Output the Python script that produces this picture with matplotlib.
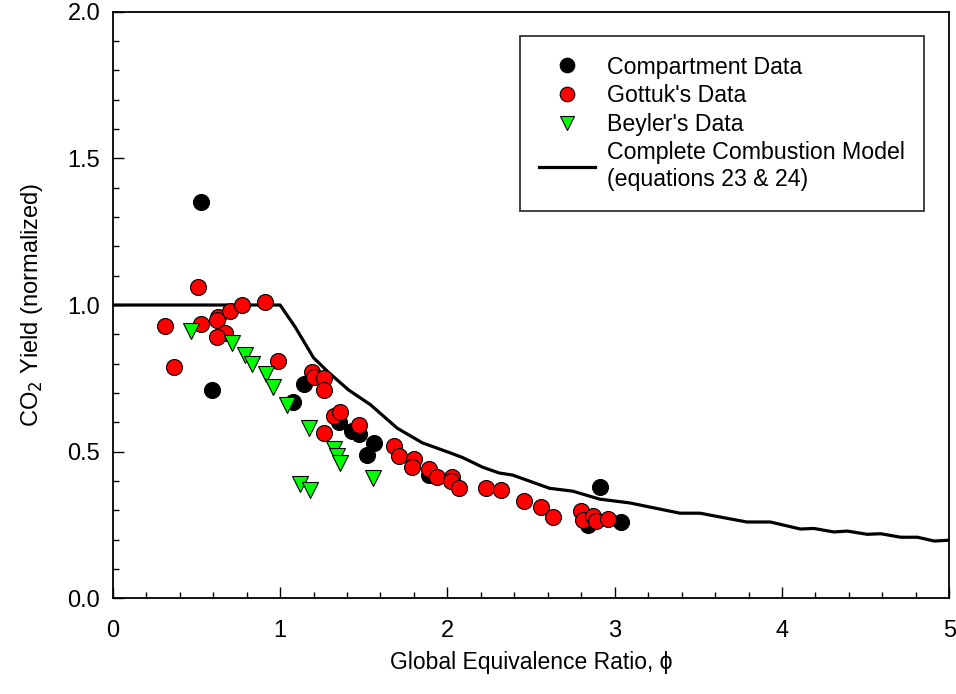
import matplotlib
matplotlib.use("Agg")
import matplotlib.pyplot as plt
from matplotlib.ticker import MultipleLocator, FormatStrFormatter

plt.rcParams['font.family'] = ['Liberation Sans', 'DejaVu Sans']

comp_x = [0.53, 0.59, 1.08, 1.14, 1.35, 1.43, 1.47, 1.56, 1.52, 1.89, 2.91, 2.84, 3.04]
comp_y = [1.35, 0.71, 0.67, 0.73, 0.60, 0.57, 0.56, 0.53, 0.49, 0.42, 0.38, 0.25, 0.26]

gott_x = [0.51, 0.31, 0.53, 0.365, 0.63, 0.62, 0.70, 0.77, 0.91, 0.67, 0.62, 0.99,
          1.19, 1.20, 1.26, 1.26, 1.32, 1.36, 1.26, 1.47, 1.68, 1.71, 1.80, 1.79,
          1.89, 1.94, 2.03, 2.02, 2.07, 2.23, 2.32, 2.46, 2.56, 2.63, 2.80, 2.81,
          2.87, 2.89, 2.96]
gott_y = [1.06, 0.93, 0.935, 0.79, 0.96, 0.95, 0.98, 1.00, 1.01, 0.905, 0.89, 0.81,
          0.77, 0.755, 0.75, 0.71, 0.62, 0.635, 0.565, 0.59, 0.52, 0.485, 0.475, 0.447,
          0.44, 0.415, 0.415, 0.40, 0.375, 0.375, 0.37, 0.33, 0.31, 0.277, 0.297, 0.266,
          0.28, 0.263, 0.27]

bey_x = [0.47, 0.71, 0.79, 0.83, 0.915, 0.96, 1.04, 1.17, 1.32, 1.34, 1.36, 1.12, 1.18, 1.555]
bey_y = [0.91, 0.87, 0.83, 0.80, 0.765, 0.72, 0.66, 0.58, 0.51, 0.485, 0.46, 0.39, 0.37, 0.41]

model_x = [0.0, 1.0, 1.09, 1.20, 1.29, 1.41, 1.54, 1.70, 1.85, 2.02, 2.09, 2.21, 2.31, 2.39,
           2.61, 2.75, 2.91, 3.09, 3.39, 3.51, 3.63, 3.79, 3.93, 4.11, 4.19, 4.31, 4.39,
           4.51, 4.59, 4.71, 4.81, 4.91, 5.0]
model_y = [1.0, 1.0, 0.925, 0.82, 0.77, 0.71, 0.66, 0.58, 0.53, 0.495, 0.48, 0.447, 0.427, 0.42,
           0.375, 0.365, 0.338, 0.325, 0.29, 0.29, 0.277, 0.26, 0.26, 0.236, 0.238, 0.226, 0.229,
           0.218, 0.22, 0.208, 0.208, 0.195, 0.198]

fig = plt.figure(figsize=(9.56, 6.94), dpi=100)
ax = fig.add_axes([0.118, 0.138, 0.875, 0.845])

ax.plot(model_x, model_y, color='black', lw=2.3, zorder=2,
        label='Complete Combustion Model\n(equations 23 & 24)')
ax.plot(comp_x, comp_y, 'o', color='black', mec='black', ms=11.5, mew=0.8, zorder=3,
        label='Compartment Data')
ax.plot(gott_x, gott_y, 'o', color='#ff0000', mec='black', ms=11.5, mew=0.8, zorder=4,
        label="Gottuk's Data")
ax.plot(bey_x, bey_y, 'v', color='#00ff00', mec='black', ms=11.5, mew=0.8, zorder=5,
        label="Beyler's Data")

ax.set_xlim(0, 5)
ax.set_ylim(0, 2.0)
ax.xaxis.set_major_locator(MultipleLocator(1))
ax.xaxis.set_minor_locator(MultipleLocator(0.2))
ax.yaxis.set_major_locator(MultipleLocator(0.5))
ax.yaxis.set_minor_locator(MultipleLocator(0.1))
ax.yaxis.set_major_formatter(FormatStrFormatter('%.1f'))
ax.tick_params(which='both', direction='in', top=False, right=False, labelsize=17, width=1.0)
ax.tick_params(which='major', length=8)
ax.tick_params(which='minor', length=4)
ax.tick_params(axis='y', which='major', pad=9)
ax.tick_params(axis='x', which='major', pad=16)
for s in ax.spines.values():
    s.set_linewidth(1.3)

ax.set_xlabel('Global Equivalence Ratio, ϕ', fontsize=16.5, labelpad=6)
ax.set_ylabel('CO$_2$ Yield (normalized)', fontsize=17, labelpad=16)

h, l = ax.get_legend_handles_labels()
order = [1, 2, 3, 0]
leg = ax.legend([h[i] for i in order], [l[i] for i in order], loc='upper right',
                bbox_to_anchor=(0.970, 0.959), fontsize=16.7, frameon=True, fancybox=False,
                edgecolor='black', handlelength=2.4, borderpad=0.85, labelspacing=0.24,
                handletextpad=0.5, borderaxespad=0)
leg.get_frame().set_linewidth(1.3)
for hd in leg.legend_handles[:3]:
    hd.set_markersize(10.5)

fig.savefig('out.png', dpi=100)
